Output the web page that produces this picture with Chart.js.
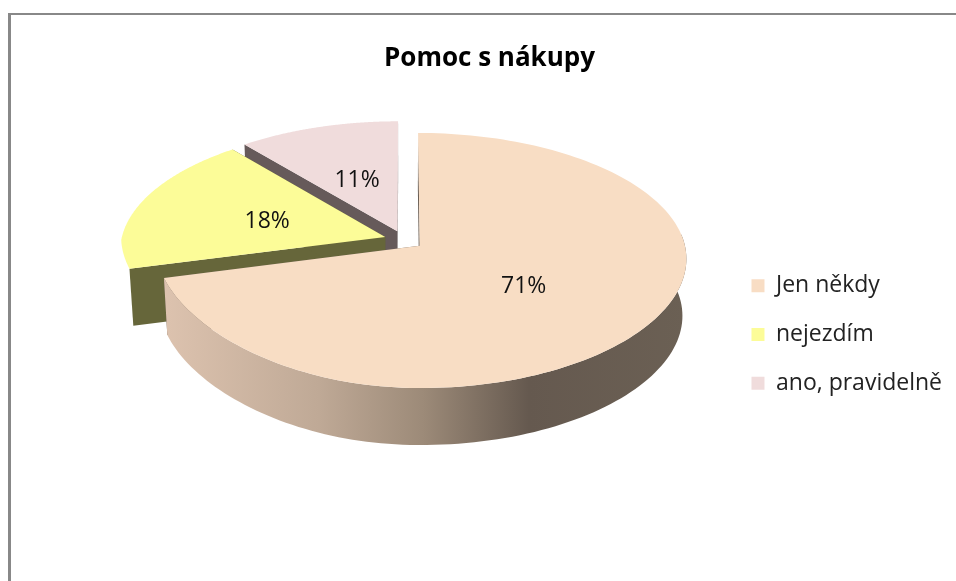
<!DOCTYPE html>
<html><head><meta charset="utf-8">
<style>html,body{margin:0;padding:0;background:#fff}canvas{display:block}</style>
<script src="https://cdn.jsdelivr.net/npm/chart.js@4"></script></head>
<body><canvas id="c" width="956" height="581"></canvas>
<script>
const categories = ['Jen někdy', 'nejezdím', 'ano, pravidelně'];
const shares = [71, 18, 11];
const topColors = ['#F8DDC4', '#FCFC98', '#F0DCDC'];
const wallColors = ['#6A5E54', '#66663A', '#665A5A'];
const chartTitle = 'Pomoc s nákupy';

// projection of the pie plane onto the screen (tilt + perspective)
const G = {x0:404, y0:240, a:264, b:124.5, p:0.115, q:0.105, q2:0.1, explode:0.075, depth:57, shrink:0.986};
function project(X, Y){
  const f = Y < 0 ? 1 + G.q*Y : (X > 0 ? 1 + G.q2*Y : 1);
  return {x: G.x0 + G.a*X*f, y: G.y0 + G.b*Y/(1 - G.p*Y)};
}
function lower(pt){ return {x: G.x0 + (pt.x-G.x0)*G.shrink, y: pt.y + G.depth}; }

const pie3d = {
  id:'pie3d',
  beforeDraw(chart){
    const ctx = chart.ctx;
    ctx.save();
    ctx.fillStyle = '#fff'; ctx.fillRect(0,0,chart.width,chart.height);
    ctx.fillStyle = '#888888';
    ctx.fillRect(8,13,chart.width-8,2);
    ctx.fillRect(8,13,3,chart.height-13);
    ctx.restore();
  },
  beforeDatasetsDraw(chart){
    const ctx = chart.ctx, arcs = chart.getDatasetMeta(0).data;
    const order = arcs.map((_,i)=>i).reverse();
    const grad = ctx.createLinearGradient(162,0,686,0);
    grad.addColorStop(0,'#DDC3AF'); grad.addColorStop(.3,'#BFA996');
    grad.addColorStop(.5,'#9C8A78'); grad.addColorStop(.7,'#65594F'); grad.addColorStop(1,'#6B6054');
    ctx.save();
    for(const i of order){
      const el = arcs[i], s = el.startAngle, e = el.endAngle, mid=(s+e)/2;
      const ox = Math.cos(mid)*G.explode, oy = Math.sin(mid)*G.explode;
      const rim=[]; const N=160;
      for(let k=0;k<=N;k++){ const t=s+(e-s)*k/N; rim.push({t,pt:project(Math.cos(t)+ox,Math.sin(t)+oy)}); }
      const apex = project(ox,oy);
      const poly = pts => { ctx.beginPath(); pts.forEach((p,j)=> j?ctx.lineTo(p.x,p.y):ctx.moveTo(p.x,p.y)); ctx.closePath(); ctx.fill(); };
      // radial walls
      ctx.fillStyle = wallColors[i];
      for(const r of [rim[0].pt, rim[N].pt]) poly([apex,r,lower(r),lower(apex)]);
      // outer wall (front-facing slices only)
      if(Math.sin(mid) > 0){
        const front = rim.filter(r=>Math.sin(r.t)>-0.12).map(r=>r.pt);
        ctx.fillStyle = grad;
        poly(front.concat(front.slice().reverse().map(lower)));
      }
      // top face
      ctx.fillStyle = el.options.backgroundColor;
      poly([apex].concat(rim.map(r=>r.pt)));
    }
    // percentage labels
    ctx.fillStyle='#111'; ctx.font='23px "Open Sans"'; ctx.textAlign='center'; ctx.textBaseline='middle';
    const total = shares.reduce((a,b)=>a+b,0);
    arcs.forEach((el,i)=>{
      const mid=(el.startAngle+el.endAngle)/2, r=0.48+G.explode;
      const p=project(Math.cos(mid)*r,Math.sin(mid)*r);
      ctx.fillText(Math.round(shares[i]/total*100)+'%',p.x,p.y+2);
    });
    ctx.restore();
    return false;
  }
};

new Chart(document.getElementById('c'),{
  type:'pie',
  data:{labels:categories,datasets:[{data:shares,backgroundColor:topColors,borderWidth:0}]},
  options:{
    responsive:false,animation:false,
    layout:{padding:{left:27,right:4,top:0,bottom:-88}},
    plugins:{
      title:{display:true,text:chartTitle,color:'#000',font:{family:'Open Sans',size:26,weight:'bold'},padding:{top:43,bottom:10}},
      legend:{position:'right',labels:{boxWidth:13,boxHeight:13,padding:25.7,color:'#222',font:{family:'Open Sans',size:23}}},
      tooltip:{enabled:false}
    }
  },
  plugins:[pie3d]
});
</script></body></html>
